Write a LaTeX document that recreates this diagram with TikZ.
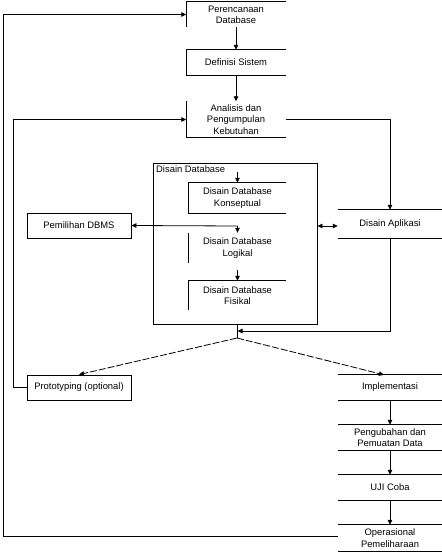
\documentclass[tikz,border=0pt]{standalone}
\usepackage{fontspec}
\setmainfont{Liberation Sans}
\usetikzlibrary{arrows.meta}
\begin{document}
\begin{tikzpicture}[x=1pt,y=-1pt,
  ln/.style={line width=0.8pt,black},
  arr/.style={ln,-{Triangle[length=5pt,width=4.5pt]}},
  dasharr/.style={arr,dash pattern=on 7pt off 2pt},
  lbl/.style={inner sep=0pt,align=center,font=\fontsize{9.4}{11.3}\selectfont},
  box/.style={lbl,minimum width=100pt,minimum height=25pt},
  rbox/.style={lbl,minimum width=104pt,minimum height=25pt}
]
\fill[white] (0,0) rectangle (442,552);
\useasboundingbox (0,0) rectangle (442,552);

% left/top column
\node[box,minimum width=99pt] (per) at (236,14.5) {Perencanaan\\Database};
\node[box,minimum width=99pt] (def) at (236,62.5) {Definisi Sistem};
\node[box,minimum width=99pt,minimum height=36pt] (ana) at (236,119.5) {Analisis dan\\Pengumpulan\\Kebutuhan};

\draw[ln] (per.north east) -- (per.north west) -- (per.south west);
\draw[ln] (def.north east) -- (def.north west) -- (def.south west) -- (def.south east);
\draw[ln] (ana.north west) -- (ana.south west) -- (ana.south east);

% container
\node[draw,ln,minimum width=164pt,minimum height=161pt,inner sep=0pt] (dd) at (235,243.5) {};
\node[lbl,anchor=north west] (ddl) at (156,165.5) {Disain Database};
\node[box,minimum width=97pt,minimum height=30pt] (kon) at (237.5,198) {Disain Database\\Konseptual};
\node[box,minimum width=97pt,minimum height=30pt] (log) at (237.5,248) {Disain Database\\Logikal};
\node[box,minimum width=97pt,minimum height=29pt] (fis) at (237.5,295.5) {Disain Database\\Fisikal};
\draw[ln] (kon.north east) -- (kon.north west) -- (kon.south west) -- (kon.south east);
\draw[ln] (log.north west) -- (log.south west);
\draw[ln] (fis.north east) -- (fis.north west) -- (fis.south west);

% side boxes
\node[draw,ln,rbox] (pem) at (79,225.5) {Pemilihan DBMS};
\node[draw,ln,rbox] (pro) at (79,387.5) {Prototyping (optional)};
\node[rbox,minimum height=28pt] (apl) at (390,224) {Disain Aplikasi};
\node[rbox] (imp) at (390,387.5) {Implementasi};
\node[rbox] (ubah) at (390,437.5) {Pengubahan dan\\Pemuatan Data};
\node[rbox] (uji) at (390,487.5) {UJI Coba};
\node[rbox,minimum height=26pt] (ops) at (390,538) {Operasional\\Pemeliharaan};
\foreach \n in {apl,imp,ubah,uji,ops}{
  \draw[ln] (\n.north west) -- (\n.north east);
  \draw[ln] (\n.south west) -- (\n.south east);
}

% connectors
\draw[arr] (per.south) -- (def.north);
\draw[arr] (def.south) -- (ana.north);
\draw[arr] ([yshift=2pt]ops.west) -- (3,536) -- (3,14.5) -- (per.west);
\draw[arr] (pro.west) -- (13,387.5) -- (13,119.5) -- (ana.west);
\draw[arr] (ana.east) -- (390,119.5) -- (apl.north);
\draw[arr] ([yshift=11pt]kon.north) -- (kon.north);
\coordinate (kj) at (237.5,226);
\draw[arr] (kj) -- (log.north);
\draw[arr] (kj) -- (pem.east);
\draw[arr] ([yshift=11pt]fis.north) -- (fis.north);
\draw[ln,{Triangle[length=5pt,width=4.5pt]}-{Triangle[length=5pt,width=4.5pt]}] (dd.east |- 0,226) -- (apl.west |- 0,226);
\coordinate (jn) at (237,338);
\draw[ln] (237,324) -- (jn);
\draw[arr] (apl.south) -- (390,331) -- (237.5,331);
\draw[dasharr] (jn) -- (pro.north);
\draw[dasharr] (jn) -- ([xshift=-6pt]imp.north);
\draw[arr] (imp.south) -- (ubah.north);
\draw[arr] (ubah.south) -- (uji.north);
\draw[arr] (uji.south) -- (ops.north);
\end{tikzpicture}
\end{document}
